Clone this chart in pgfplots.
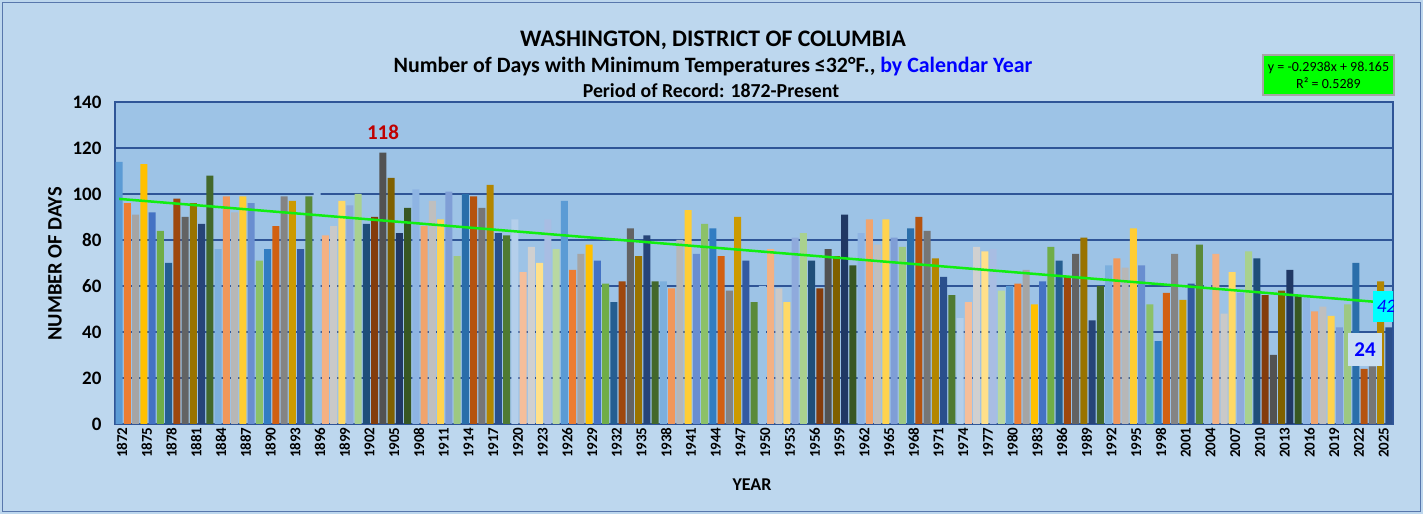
\documentclass[border=0pt]{standalone}
\usepackage{fontspec}
\setmainfont{Carlito}
\usepackage{pgfplots}
\pgfplotsset{compat=1.18}
\definecolor{bgout}{HTML}{BDD7EE}
\definecolor{bgplot}{HTML}{9DC3E6}
\definecolor{gridc}{HTML}{2F5597}
\definecolor{trendg}{HTML}{11EE11}
\definecolor{aqua}{HTML}{00FFFF}
\definecolor{pureblue}{HTML}{0000FF}
\definecolor{eqgreen}{HTML}{00FF00}
\definecolor{darkred}{HTML}{C00000}
\definecolor{c0}{HTML}{5B9BD5}
\definecolor{c1}{HTML}{ED7D31}
\definecolor{c2}{HTML}{A5A5A5}
\definecolor{c3}{HTML}{FFC000}
\definecolor{c4}{HTML}{4472C4}
\definecolor{c5}{HTML}{70AD47}
\definecolor{c6}{HTML}{255E91}
\definecolor{c7}{HTML}{9E480E}
\definecolor{c8}{HTML}{636363}
\definecolor{c9}{HTML}{997300}
\definecolor{c10}{HTML}{264478}
\definecolor{c11}{HTML}{43682B}
\definecolor{c12}{HTML}{7CAFDD}
\definecolor{c13}{HTML}{F1975A}
\definecolor{c14}{HTML}{B7B7B7}
\definecolor{c15}{HTML}{FFCD33}
\definecolor{c16}{HTML}{698ED0}
\definecolor{c17}{HTML}{8CC168}
\definecolor{c18}{HTML}{327DC2}
\definecolor{c19}{HTML}{D26012}
\definecolor{c20}{HTML}{848484}
\definecolor{c21}{HTML}{CC9A00}
\definecolor{c22}{HTML}{335AA1}
\definecolor{c23}{HTML}{5A8A39}
\definecolor{c24}{HTML}{9DC3E6}
\definecolor{c25}{HTML}{F4B183}
\definecolor{c26}{HTML}{C9C9C9}
\definecolor{c27}{HTML}{FFD966}
\definecolor{c28}{HTML}{8FAADC}
\definecolor{c29}{HTML}{A9D18E}
\definecolor{c30}{HTML}{1F4E79}
\definecolor{c31}{HTML}{843C0C}
\definecolor{c32}{HTML}{525252}
\definecolor{c33}{HTML}{7F6000}
\definecolor{c34}{HTML}{203864}
\definecolor{c35}{HTML}{385723}
\definecolor{c36}{HTML}{8EB4E3}
\definecolor{c37}{HTML}{F1A46D}
\definecolor{c38}{HTML}{BFBFBF}
\definecolor{c39}{HTML}{FFD34F}
\definecolor{c40}{HTML}{7F9ED6}
\definecolor{c41}{HTML}{9DC882}
\definecolor{c42}{HTML}{2A6EAA}
\definecolor{c43}{HTML}{B5530F}
\definecolor{c44}{HTML}{767676}
\definecolor{c45}{HTML}{B38600}
\definecolor{c46}{HTML}{2A4F8C}
\definecolor{c47}{HTML}{4F7A32}
\definecolor{c48}{HTML}{B4CFEB}
\definecolor{c49}{HTML}{F5BE9A}
\definecolor{c50}{HTML}{D0D0D0}
\definecolor{c51}{HTML}{FFE08A}
\definecolor{c52}{HTML}{A8BDE3}
\definecolor{c53}{HTML}{B8D8A2}
\pgfplotsset{cb/.style={ybar, bar width=7bp, bar shift=0pt, draw=none, fill=#1}}
\begin{document}
\begin{tikzpicture}[x=1bp,y=1bp]
\path[use as bounding box] (0,0) rectangle (1423,514);
\fill[bgout] (0,0) rectangle (1423,514);
\draw[gridc!80, line width=1.5bp] (2.5,2.5) rectangle (1420.5,511.5);
\begin{axis}[
  at={(115bp,90bp)}, anchor=south west,
  scale only axis, width=1278bp, height=322bp,
  xmin=-0.5, xmax=154.5, ymin=0, ymax=140,
  axis background/.style={fill=bgplot},
  axis line style={draw=gridc, line width=1.3bp},
  ymajorgrids, major grid style={draw=gridc, line width=1.4bp},
  ytick={0,20,...,140}, yticklabels={0,20,40,60,80,100,120,140},
  xtick={0,3,...,153},
  xticklabels={1872,1875,1878,1881,1884,1887,1890,1893,1896,1899,1902,1905,1908,1911,1914,1917,1920,1923,1926,1929,1932,1935,1938,1941,1944,1947,1950,1953,1956,1959,1962,1965,1968,1971,1974,1977,1980,1983,1986,1989,1992,1995,1998,2001,2004,2007,2010,2013,2016,2019,2022,2025},
  major tick length=0pt,
  yticklabel style={font=\bfseries\fontsize{19bp}{19bp}\selectfont, xshift=-10bp},
  xticklabel style={font=\bfseries\fontsize{15bp}{15bp}\selectfont, rotate=90, anchor=east, yshift=-3bp},
]
\addplot[cb=c0] coordinates {(0,114) (54,97) (108,60)};
\addplot[cb=c1] coordinates {(1,96) (55,67) (109,61)};
\addplot[cb=c2] coordinates {(2,91) (56,74) (110,67)};
\addplot[cb=c3] coordinates {(3,113) (57,78) (111,52)};
\addplot[cb=c4] coordinates {(4,92) (58,71) (112,62)};
\addplot[cb=c5] coordinates {(5,84) (59,61) (113,77)};
\addplot[cb=c6] coordinates {(6,70) (60,53) (114,71)};
\addplot[cb=c7] coordinates {(7,98) (61,62) (115,64)};
\addplot[cb=c8] coordinates {(8,90) (62,85) (116,74)};
\addplot[cb=c9] coordinates {(9,96) (63,73) (117,81)};
\addplot[cb=c10] coordinates {(10,87) (64,82) (118,45)};
\addplot[cb=c11] coordinates {(11,108) (65,62) (119,60)};
\addplot[cb=c12] coordinates {(12,76) (66,62) (120,69)};
\addplot[cb=c13] coordinates {(13,99) (67,59) (121,72)};
\addplot[cb=c14] coordinates {(14,92) (68,80) (122,68)};
\addplot[cb=c15] coordinates {(15,99) (69,93) (123,85)};
\addplot[cb=c16] coordinates {(16,96) (70,74) (124,69)};
\addplot[cb=c17] coordinates {(17,71) (71,87) (125,52)};
\addplot[cb=c18] coordinates {(18,76) (72,85) (126,36)};
\addplot[cb=c19] coordinates {(19,86) (73,73) (127,57)};
\addplot[cb=c20] coordinates {(20,99) (74,58) (128,74)};
\addplot[cb=c21] coordinates {(21,97) (75,90) (129,54)};
\addplot[cb=c22] coordinates {(22,76) (76,71) (130,61)};
\addplot[cb=c23] coordinates {(23,99) (77,53) (131,78)};
\addplot[cb=c24] coordinates {(24,101) (78,60) (132,64)};
\addplot[cb=c25] coordinates {(25,82) (79,76) (133,74)};
\addplot[cb=c26] coordinates {(26,86) (80,59) (134,48)};
\addplot[cb=c27] coordinates {(27,97) (81,53) (135,66)};
\addplot[cb=c28] coordinates {(28,95) (82,81) (136,57)};
\addplot[cb=c29] coordinates {(29,100) (83,83) (137,75)};
\addplot[cb=c30] coordinates {(30,87) (84,71) (138,72)};
\addplot[cb=c31] coordinates {(31,90) (85,59) (139,56)};
\addplot[cb=c32] coordinates {(32,118) (86,76) (140,30)};
\addplot[cb=c33] coordinates {(33,107) (87,73) (141,58)};
\addplot[cb=c34] coordinates {(34,83) (88,91) (142,67)};
\addplot[cb=c35] coordinates {(35,94) (89,69) (143,56)};
\addplot[cb=c36] coordinates {(36,102) (90,83) (144,55)};
\addplot[cb=c37] coordinates {(37,86) (91,89) (145,49)};
\addplot[cb=c38] coordinates {(38,97) (92,78) (146,51)};
\addplot[cb=c39] coordinates {(39,89) (93,89) (147,47)};
\addplot[cb=c40] coordinates {(40,101) (94,81) (148,42)};
\addplot[cb=c41] coordinates {(41,73) (95,77) (149,52)};
\addplot[cb=c42] coordinates {(42,100) (96,85) (150,70)};
\addplot[cb=c43] coordinates {(43,99) (97,90) (151,24)};
\addplot[cb=c44] coordinates {(44,94) (98,84) (152,25)};
\addplot[cb=c45] coordinates {(45,104) (99,72) (153,62)};
\addplot[cb=c46] coordinates {(46,83) (100,64) (154,42)};
\addplot[cb=c47] coordinates {(47,82) (101,56)};
\addplot[cb=c48] coordinates {(48,89) (102,46)};
\addplot[cb=c49] coordinates {(49,66) (103,53)};
\addplot[cb=c50] coordinates {(50,77) (104,77)};
\addplot[cb=c51] coordinates {(51,70) (105,75)};
\addplot[cb=c52] coordinates {(52,89) (106,76)};
\addplot[cb=c53] coordinates {(53,76) (107,58)};
\addplot[color=trendg, line width=2.5bp] coordinates {(0,97.871) (154,52.63)};
\node[text=darkred, font=\bfseries\fontsize{21bp}{21bp}\selectfont] at (axis cs:32,127) {118};
\node[fill=bgout!80!white, minimum width=34bp, minimum height=33bp, inner sep=0pt, text=pureblue, font=\bfseries\fontsize{21bp}{21bp}\selectfont] at (axis cs:151.1,32.2) {24};
\node[fill=aqua, minimum width=26bp, minimum height=31bp, inner sep=0pt, text=pureblue, font=\itshape\fontsize{19bp}{19bp}\selectfont] at (axis cs:153.7,51.3) {42};
\end{axis}
\node[font=\bfseries\fontsize{23.7bp}{24bp}\selectfont] at (713,474) {WASHINGTON, DISTRICT OF COLUMBIA};
\node[font=\bfseries\fontsize{21.9bp}{22bp}\selectfont] at (713,447) {Number of Days with Minimum Temperatures ≤32°F., \textcolor{pureblue}{by Calendar Year}};
\node[font=\bfseries\fontsize{19.8bp}{20bp}\selectfont] at (711,423) {Period of Record: 1872-Present};
\node[rotate=90, font=\bfseries\fontsize{20.5bp}{20.5bp}\selectfont] at (55,250) {NUMBER OF DAYS};
\node[font=\bfseries\fontsize{18bp}{18bp}\selectfont] at (752,29) {YEAR};
\node[fill=eqgreen, draw=gray!70, line width=1.5bp, minimum width=131bp, minimum height=40bp, inner sep=0pt, align=center, font=\fontsize{14bp}{17bp}\selectfont] at (1328.5,439) {y = -0.2938x + 98.165\\R² = 0.5289};
\end{tikzpicture}
\end{document}
